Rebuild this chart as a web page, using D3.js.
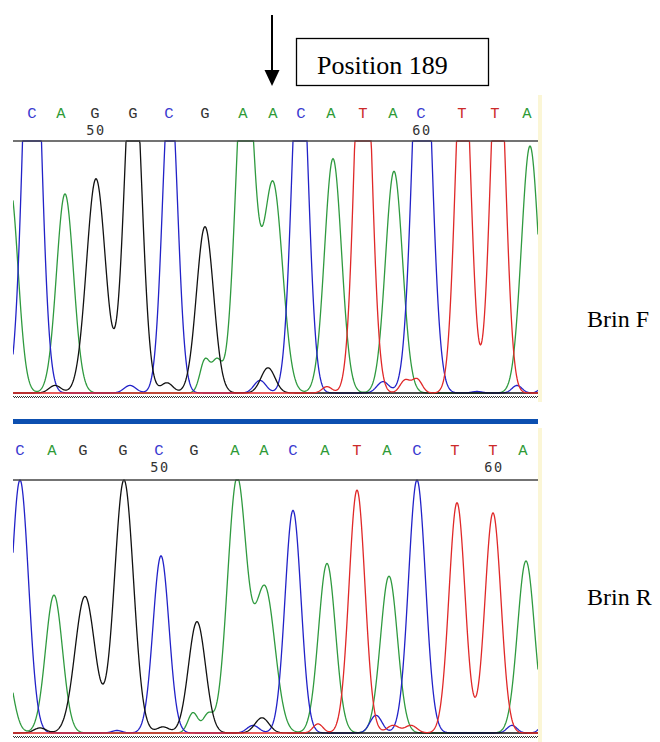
<!DOCTYPE html>
<html>
<head>
<meta charset="utf-8">
<script src="https://cdn.jsdelivr.net/npm/d3@7"></script>
<style>
  html, body { margin: 0; padding: 0; background: #fff; }
  svg { display: block; }
</style>
</head>
<body>
<svg id="chart" width="660" height="742"></svg>
<script>
// ---------------- DATA ----------------
const bases = ["C","A","G","G","C","G","A","A","C","A","T","A","C","T","T","A"];
// base-call positions (scan units) for each strand
const basePosF = [19, 48, 82, 120, 156, 192, 230, 260, 288, 318, 350, 380, 408, 449, 482, 514];
const basePosR = [7, 39, 70, 110, 146, 181, 222, 251, 280, 312, 344, 374, 404, 442, 480, 510];
// position-number tick labels: [index into bases, label]
const numTicksF = [[2, "50"], [12, "60"]];
const numTicksR = [[4, "50"], [14, "60"]];

// peaks per channel: [scan position, relative height (1 = top line), width]
const peaksF = {
  A: [[-3,0.82,8],[52,0.79,8.5],[192,0.13,5],[204,0.12,5],[232,1.41,9],[260,0.83,9.5],[320,0.93,8.5],[381,0.88,8.5],[517,0.98,8.5]],
  C: [[19,1.86,8.5],[117,0.03,6],[157,1.25,7.5],[247,0.05,6],[287,1.47,8],[370,0.045,6],[409,1.74,9],[464,0.006,5],[504,0.03,5],[549,1.0,8]],
  G: [[42,0.03,6],[83,0.85,9.5],[120,1.39,8.5],[154,0.04,6],[192,0.66,8.5],[255,0.1,7]],
  T: [[314,0.025,5],[350,1.7,8],[392,0.05,5],[404,0.055,5],[450,1.45,7.5],[485,1.45,7.5]]
};
const peaksR = {
  A: [[-9,0.3,8],[41,0.545,8.5],[180,0.08,5],[195,0.07,5],[224,1.0,9.5],[252,0.57,10],[314,0.67,8.5],[376,0.62,8.5],[513,0.68,8.5]],
  C: [[7,1.0,8.5],[104,0.01,5],[148,0.70,8],[240,0.03,6],[280,0.88,8],[363,0.07,6],[404,1.0,8.5],[499,0.03,5],[547,0.6,8]],
  G: [[27,0.02,6],[72,0.54,10],[111,1.0,9.5],[150,0.024,6],[184,0.44,8.5],[249,0.06,7]],
  T: [[305,0.036,5],[344,0.96,8],[380,0.03,6],[398,0.03,6],[444,0.91,8],[480,0.87,8]]
};
const strandLabels = ["Brin F", "Brin R"];
const annotation = "Position 189";
const markedBaseIndex = 7; // arrow above the 8th base of strand F

// ---------------- STYLE ----------------
const baseColor = { A: "#2e9a36", C: "#3a3ad0", G: "#333333", T: "#cc2a2a" };
const traceColor = { A: "#2f9a3f", C: "#2222c8", G: "#111111", T: "#e02828" };
const drawOrder = ["A", "C", "G", "T"];

const svg = d3.select("#chart");
const left = 13, right = 538;
const x = d3.scaleLinear().domain([0, 525]).range([left, right]);

const panels = [
  { pos: basePosF, ticks: numTicksF, peaks: peaksF, letterY: 118, numY: 135, top: 141, base: 393, label: strandLabels[0], labelY: 327 },
  { pos: basePosR, ticks: numTicksR, peaks: peaksR, letterY: 455, numY: 472, top: 480, base: 733, label: strandLabels[1], labelY: 605 }
];

// pale yellow right edge strips
svg.append("rect").attr("x", right).attr("y", 95).attr("width", 4).attr("height", 307).attr("fill", "#fbf6d6");
svg.append("rect").attr("x", right).attr("y", 428).attr("width", 4).attr("height", 314).attr("fill", "#fbf6d6");

const defs = svg.append("defs");

panels.forEach((p, pi) => {
  const y = d3.scaleLinear().domain([0, 1]).range([p.base, p.top]);
  const g = svg.append("g");

  // base letters
  g.selectAll("text.base").data(bases).join("text")
    .attr("class", "base")
    .attr("x", (d, i) => x(p.pos[i]))
    .attr("y", p.letterY)
    .attr("text-anchor", "middle")
    .attr("font-family", "'Liberation Mono', 'DejaVu Sans Mono', monospace")
    .attr("font-size", 15.5)
    .attr("fill", d => baseColor[d])
    .text(d => d);

  // numbers
  g.selectAll("text.num").data(p.ticks).join("text")
    .attr("class", "num")
    .attr("x", d => x(p.pos[d[0]]) + 1)
    .attr("y", p.numY)
    .attr("text-anchor", "middle")
    .attr("font-family", "'DejaVu Sans Mono', monospace")
    .attr("font-size", 13.5)
    .attr("letter-spacing", 1.5)
    .attr("fill", "#333")
    .text(d => d[1]);

  // clip
  const cid = "clip" + pi;
  defs.append("clipPath").attr("id", cid).append("rect")
    .attr("x", left).attr("y", p.top - 1).attr("width", right - left).attr("height", p.base - p.top + 2);

  const samples = d3.range(0, 525.01, 0.5);
  const line = d3.line().x(d => x(d[0])).y(d => y(Math.min(1, d[1])));
  const tg = g.append("g").attr("clip-path", `url(#${cid})`);
  drawOrder.forEach(ch => {
    const pk = p.peaks[ch];
    const pts = samples.map(s => [s, d3.sum(pk, q => q[1] * Math.exp(-((s - q[0]) ** 2) / (2 * q[2] * q[2])))]);
    tg.append("path").datum(pts)
      .attr("d", line)
      .attr("fill", "none")
      .attr("stroke", traceColor[ch])
      .attr("stroke-width", 1.3);
  });

  // top line
  g.append("line").attr("x1", left).attr("x2", right).attr("y1", p.top).attr("y2", p.top)
    .attr("stroke", "#444").attr("stroke-width", 1.5);
  // dotted bottom rule
  g.append("line").attr("x1", left).attr("x2", right).attr("y1", p.base + 3.5).attr("y2", p.base + 3.5)
    .attr("stroke", "#333").attr("stroke-width", 1).attr("stroke-dasharray", "1 1");
  g.append("line").attr("x1", left + 1).attr("x2", right).attr("y1", p.base + 4.5).attr("y2", p.base + 4.5)
    .attr("stroke", "#333").attr("stroke-width", 1).attr("stroke-dasharray", "1 1");

  // strand label
  svg.append("text").attr("x", 587).attr("y", p.labelY)
    .attr("font-family", "'Liberation Serif', 'Times New Roman', serif")
    .attr("font-size", 24).attr("fill", "#000").text(p.label);
});

// separator bar
svg.append("rect").attr("x", left).attr("y", 419).attr("width", right - left).attr("height", 5).attr("fill", "#0c4fb0");

// arrow and annotation
const ax = x(basePosF[markedBaseIndex]) - 1;
svg.append("line").attr("x1", ax).attr("x2", ax).attr("y1", 15).attr("y2", 72).attr("stroke", "#000").attr("stroke-width", 2);
svg.append("path").attr("d", d3.line()([[ax - 7.5, 70], [ax + 7.5, 70], [ax, 86]])).attr("fill", "#000");
svg.append("rect").attr("x", 296.5).attr("y", 38.5).attr("width", 192).attr("height", 47)
  .attr("fill", "#fff").attr("stroke", "#000").attr("stroke-width", 1.3);
svg.append("text").attr("x", 317).attr("y", 74)
  .attr("font-family", "'Liberation Serif', 'Times New Roman', serif")
  .attr("font-size", 26).attr("fill", "#000").text(annotation);
</script>
</body>
</html>
